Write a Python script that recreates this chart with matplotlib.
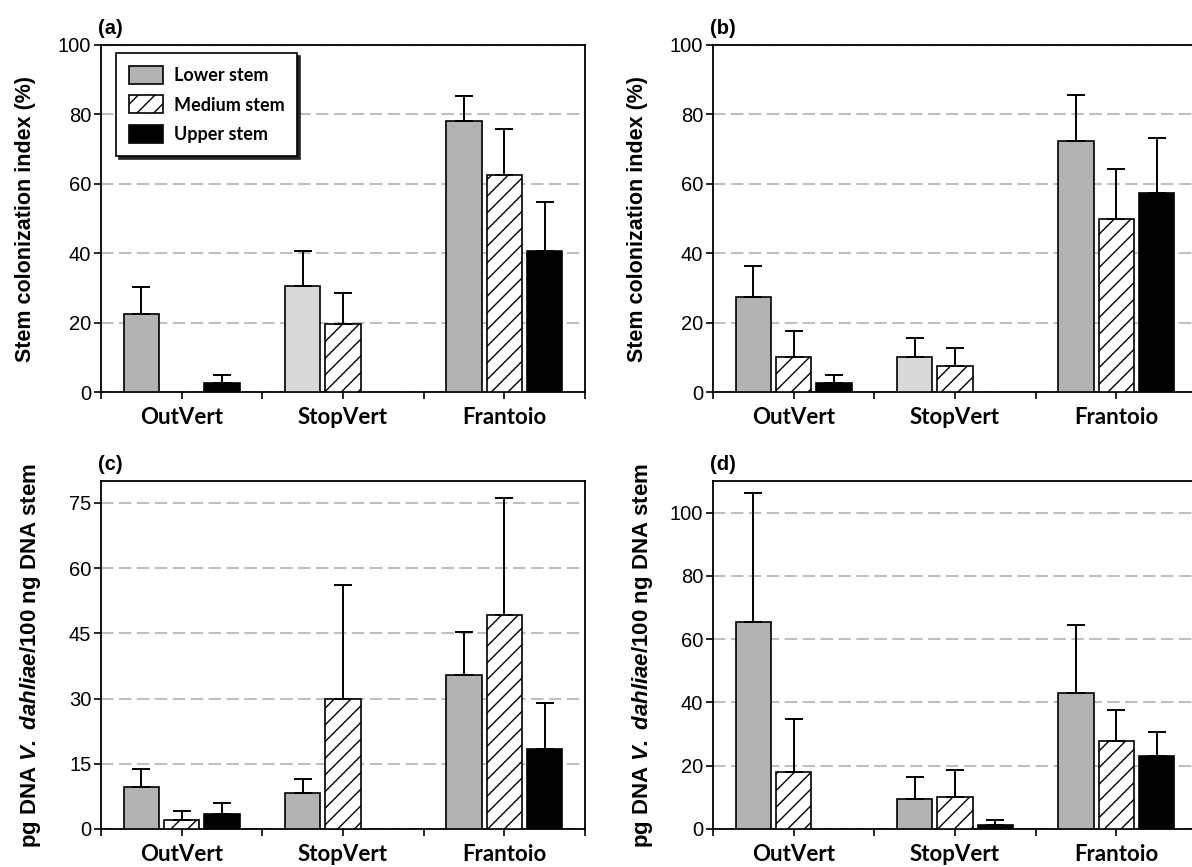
import numpy as np
import matplotlib
matplotlib.use("Agg")
import matplotlib.pyplot as plt

plt.rcParams["font.family"] = "Liberation Sans"
plt.rcParams["mathtext.fontset"] = "custom"
plt.rcParams["mathtext.rm"] = "Liberation Sans"
plt.rcParams["mathtext.bf"] = "Liberation Sans:bold"
plt.rcParams["mathtext.it"] = "Liberation Sans:italic"
plt.rcParams["mathtext.bfit"] = "Liberation Sans:italic:bold"
plt.rcParams["hatch.linewidth"] = 1.0

cultivars = ["OutVert", "StopVert", "Frantoio"]
series = ["Lower stem", "Medium stem", "Upper stem"]
nan = np.nan

# (a) stem colonization index
a_lower = [22.5, 30.5, 78.1]
a_lower_err = [7.8, 10.1, 7.2]
a_medium = [nan, 19.6, 62.6]
a_medium_err = [nan, 8.8, 13.2]
a_upper = [2.5, nan, 40.6]
a_upper_err = [2.5, nan, 14.2]

# (b) stem colonization index
b_lower = [27.5, 10.0, 72.4]
b_lower_err = [8.7, 5.5, 13.1]
b_medium = [10.0, 7.5, 50.0]
b_medium_err = [7.6, 5.3, 14.3]
b_upper = [2.5, nan, 57.4]
b_upper_err = [2.5, nan, 15.9]

# (c) pg DNA V. dahliae / 100 ng DNA stem
c_lower = [9.7, 8.3, 35.3]
c_lower_err = [4.1, 3.3, 9.9]
c_medium = [2.1, 29.8, 49.3]
c_medium_err = [2.0, 26.4, 26.9]
c_upper = [3.5, nan, 18.4]
c_upper_err = [2.5, nan, 10.5]

# (d) pg DNA V. dahliae / 100 ng DNA stem
d_lower = [65.3, 9.6, 43.1]
d_lower_err = [40.9, 6.7, 21.5]
d_medium = [18.0, 10.2, 27.8]
d_medium_err = [16.7, 8.3, 9.7]
d_upper = [nan, 1.3, 23.2]
d_upper_err = [nan, 1.4, 7.5]

y_ticks_ab = [0, 20, 40, 60, 80, 100]
y_ticks_c = [0, 15, 30, 45, 60, 75]
y_ticks_d = [0, 20, 40, 60, 80, 100]

label_ab = "Stem colonization index (%)"
label_cd = r"pg DNA $\mathbfit{V.\ dahliae}$/100 ng DNA stem"

GRAY = "#b3b3b3"
LIGHT = "#d9d9d9"
CAT_FONT = "Lato"

W, H = 1192, 867
fig = plt.figure(figsize=(W / 100, H / 100), dpi=100)


def make_axes(left_px, top_px, bottom_px, width_px=484):
    return fig.add_axes([left_px / W, 1 - bottom_px / H,
                         width_px / W, (bottom_px - top_px) / H])


def draw_panel(ax, tag, lower, lower_err, medium, medium_err, upper, upper_err,
               lower_colors, yticks, ymax, ylabel, label_x, label_size):
    x = np.arange(len(cultivars)) + 0.5
    w = 0.22
    ekw = dict(ecolor="black", elinewidth=1.4, capthick=1.4)
    zeros = np.zeros(len(cultivars))
    bars = []
    bars.append(ax.bar(x - 0.25, lower, w, color=lower_colors, edgecolor="black",
                       linewidth=1.2, yerr=[zeros, lower_err], capsize=6.5,
                       error_kw=ekw, label=series[0], zorder=3))
    bars.append(ax.bar(x, medium, w, color="white", edgecolor="black",
                       hatch="//", linewidth=1.2, yerr=[zeros, medium_err],
                       capsize=6.5, error_kw=ekw, label=series[1], zorder=3))
    bars.append(ax.bar(x + 0.25, upper, w, color="black", edgecolor="black",
                       linewidth=1.2, yerr=[zeros, upper_err], capsize=6.5,
                       error_kw=ekw, label=series[2], zorder=3))

    ax.set_xlim(0, 3)
    ax.set_ylim(0, ymax)
    ax.set_yticks(yticks)
    ax.set_xticks(np.arange(0, 3.01, 0.5))
    ax.set_xticklabels(["", cultivars[0], "", cultivars[1], "", cultivars[2], ""],
                       fontfamily=CAT_FONT, fontweight="bold", fontsize=16)
    ax.tick_params(axis="x", direction="out", length=5, width=1.2, pad=6)
    ax.tick_params(axis="y", direction="out", length=5, width=1.2, pad=2,
                   labelsize=14.5)
    for s in ax.spines.values():
        s.set_linewidth(1.3)
    ax.set_axisbelow(True)
    ax.yaxis.grid(True, color="#bfbfbf", linewidth=1.5,
                  linestyle=(0, (6, 2.6)))
    ax.set_ylabel(ylabel, fontsize=label_size, fontweight="bold")
    ax.yaxis.set_label_coords(label_x, 0.5)
    ax.annotate(tag, xy=(0, 1), xycoords="axes fraction", xytext=(-2, 5),
                textcoords="offset points", fontsize=14.5, fontweight="bold",
                ha="left", va="bottom")
    return bars


ax_a = make_axes(101, 45, 392)
ax_b = make_axes(713, 45, 392)
ax_c = make_axes(101, 481, 829)
ax_d = make_axes(713, 481, 829)

bars_a = draw_panel(ax_a, "(a)", a_lower, a_lower_err, a_medium, a_medium_err,
                    a_upper, a_upper_err, [GRAY, LIGHT, GRAY], y_ticks_ab, 100,
                    label_ab, -0.135, 15.5)
draw_panel(ax_b, "(b)", b_lower, b_lower_err, b_medium, b_medium_err,
           b_upper, b_upper_err, [GRAY, LIGHT, GRAY], y_ticks_ab, 100,
           label_ab, -0.135, 15.5)
draw_panel(ax_c, "(c)", c_lower, c_lower_err, c_medium, c_medium_err,
           c_upper, c_upper_err, [GRAY, GRAY, GRAY], y_ticks_c, 80,
           label_cd, -0.12, 16)
draw_panel(ax_d, "(d)", d_lower, d_lower_err, d_medium, d_medium_err,
           d_upper, d_upper_err, [GRAY, GRAY, GRAY], y_ticks_d, 110,
           label_cd, -0.12, 16)

leg = ax_a.legend(handles=bars_a, labels=series, loc="upper left",
                  bbox_to_anchor=(0.031, 0.977), borderaxespad=0,
                  prop=dict(family=CAT_FONT, weight="bold", size=13),
                  frameon=True, fancybox=False, edgecolor="black",
                  framealpha=1, handlelength=1.9, handleheight=1.15,
                  labelspacing=0.65, borderpad=0.7, handletextpad=0.6,
                  shadow=dict(color="0.15", alpha=1))
leg.get_frame().set_linewidth(1.2)

fig.savefig("out.png", dpi=100)
